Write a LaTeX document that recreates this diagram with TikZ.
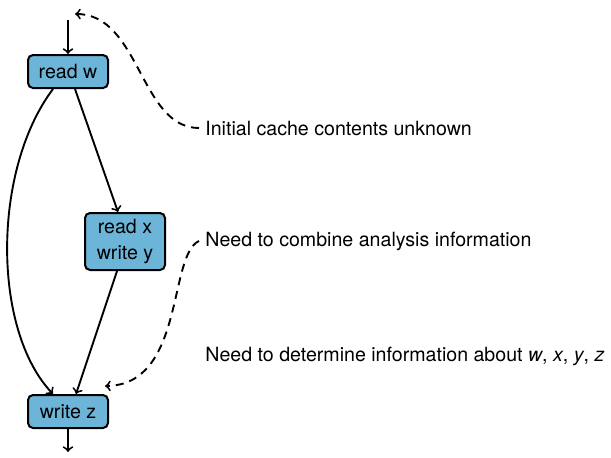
\documentclass[tikz,border=0pt]{standalone}
\usepackage{fontspec}
\setmainfont{TeX Gyre Heros}
\definecolor{boxblue}{RGB}{108,180,216}
\begin{document}
\begin{tikzpicture}[x=0.5pt,y=-0.5pt,
  every node/.style={font=\fontsize{9.8}{11.6}\selectfont},
  box/.style={draw=black,line width=1pt,fill=boxblue,rounded corners=2.5pt,
    minimum width=40pt,align=center,inner sep=0pt},
  lbl/.style={anchor=west,inner sep=3pt},
  conn/.style={line width=0.95pt,->},
  note/.style={line width=0.95pt,->,dash pattern=on 4pt off 3pt}]
\useasboundingbox (0,0) rectangle (611,457);
\node[box,minimum height=16.5pt] (rw) at (68,71.5) {read w};
\node[box,minimum height=28.5pt] (rx) at (125,241.5) {read x\\[1pt]write y};
\node[box,minimum height=16.5pt] (wz) at (68,411.5) {write z};
\coordinate (top) at (68,20);
\coordinate (bot) at (68,452);
\coordinate (t1) at (75,14);
\coordinate (t2) at (105,386);
\node[lbl] (l1) at (199,128) {Initial cache contents unknown};
\node[lbl] (l2) at (199,241) {Need to combine analysis information};
\node[lbl] (l3) at (199,356) {Need to determine information about \textit{w}, \textit{x}, \textit{y}, \textit{z}};
\draw[conn] (top) -- (rw);
\draw[conn] (wz) -- (bot);
\draw[conn] ([xshift=-7.5pt]rw.south) .. controls (-8,170) and (-8,330) .. ([xshift=-7.5pt]wz.north);
\draw[conn] ([xshift=3.5pt]rw.south) -- ([xshift=-3.5pt]rx.north);
\draw[conn] ([xshift=-4pt]rx.south) -- ([xshift=4pt]wz.north);
\draw[note] (l1.west) .. controls (140,128) and (140,14) .. (t1);
\draw[note] (l2.west) .. controls (168,255) and (185,385) .. (t2);
\end{tikzpicture}
\end{document}
